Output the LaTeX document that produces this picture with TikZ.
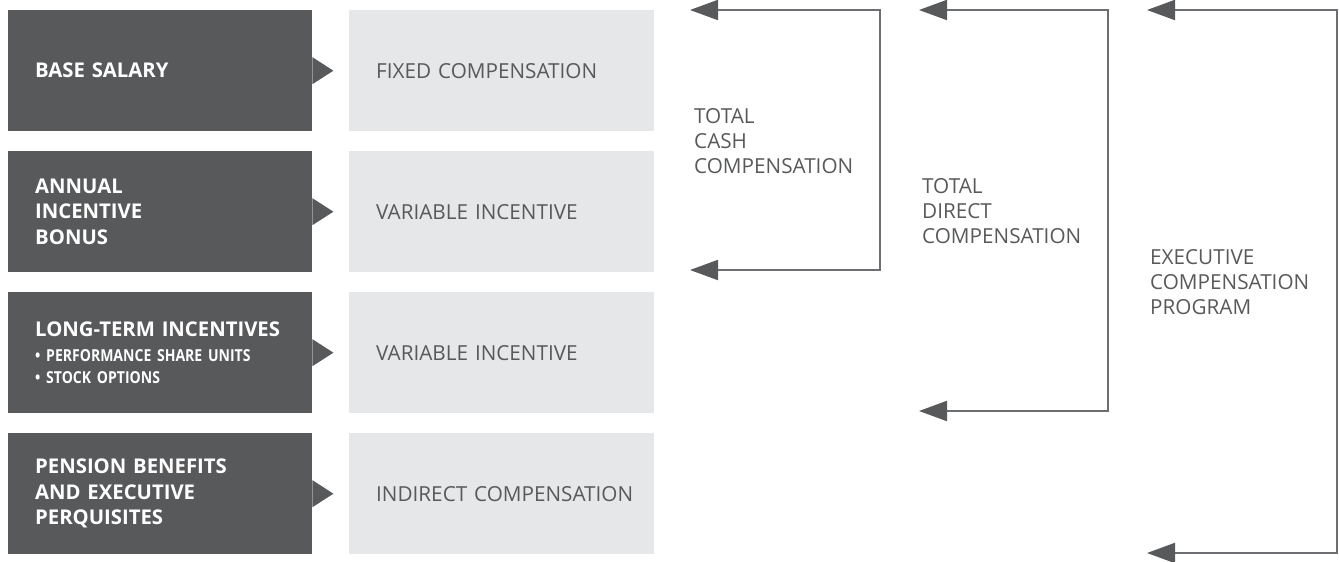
\documentclass[tikz,border=0pt]{standalone}
\usepackage{fontspec}
\setmainfont{Open Sans}
\usetikzlibrary{arrows.meta}
\hyphenpenalty=10000
\hbadness=10000
\hfuzz=200pt
\definecolor{darkbox}{HTML}{58595B}
\definecolor{lightbox}{HTML}{E6E7E8}
\definecolor{txtgray}{HTML}{58595B}
\definecolor{linegray}{HTML}{6D6E71}
\tikzset{
  darkbox/.style={rectangle, fill=darkbox, text=white, anchor=north west, minimum width=304pt, minimum height=121pt, inner xsep=0pt, inner ysep=0pt, text width=250pt, align=left, font=\fontsize{20.3}{25.5}\selectfont\bfseries},
  lightbox/.style={rectangle, fill=lightbox, text=txtgray, anchor=north west, minimum width=305pt, minimum height=121pt, inner xsep=0pt, inner ysep=0pt, text width=251pt, align=left, font=\fontsize{20.7}{25}\selectfont},
  lbl/.style={anchor=west, inner sep=0pt, text=txtgray, align=left, font=\fontsize{20.7}{25}\selectfont},
  brk/.style={draw=linegray, line width=2pt, {Triangle[length=28pt, width=20pt, color=darkbox]}-{Triangle[length=28pt, width=20pt, color=darkbox]}},
}
\newcommand{\pointer}[1]{\fill[darkbox] ([yshift=13.5pt]#1.east) -- ([xshift=21pt]#1.east) -- ([yshift=-13.5pt]#1.east) -- cycle;}
\newcommand{\bul}[1]{\mbox{\scalebox{0.85}[1]{\fontsize{16.5}{22}\selectfont • #1}}}
\begin{document}
\begin{tikzpicture}[x=1pt, y=-1pt]
\useasboundingbox (0,0) rectangle (1339,562);
% dark boxes
\node[darkbox] (d1) at (8,10) {BASE SALARY};
\node[darkbox] (d2) at (8,151) {ANNUAL\\INCENTIVE\\BONUS};
\node[darkbox] (d3) at (8,292) {\mbox{LONG-TERM INCENTIVES}\\[0pt]\bul{PERFORMANCE SHARE UNITS}\\[-4pt]\bul{STOCK OPTIONS}};
\node[darkbox] (d4) at (8,433) {\mbox{PENSION BENEFITS}\\\mbox{AND EXECUTIVE}\\PERQUISITES};
% light boxes
\node[lightbox] (l1) at (349,10) {\mbox{FIXED COMPENSATION}};
\node[lightbox] (l2) at (349,151) {\mbox{VARIABLE INCENTIVE}};
\node[lightbox] (l3) at (349,292) {\mbox{VARIABLE INCENTIVE}};
\node[lightbox] (l4) at (349,433) {\mbox{INDIRECT COMPENSATION}};
% pointers
\pointer{d1}\pointer{d2}\pointer{d3}\pointer{d4}
% bracket endpoints
\coordinate (a1) at (690,10);
\coordinate (b1) at (690,270);
\coordinate (a2) at (919,10);
\coordinate (b2) at (919,411);
\coordinate (a3) at (1147,10);
\coordinate (b3) at (1147,553);
\draw[brk] (a1) -- (880,10) -- (880,270) -- (b1);
\draw[brk] (a2) -- (1108,10) -- (1108,411) -- (b2);
\draw[brk] (a3) -- (1337,10) -- (1337,553) -- (b3);
% labels
\node[lbl] (t1) at (694,141) {TOTAL\\CASH\\COMPENSATION};
\node[lbl] (t2) at (922,211) {TOTAL\\DIRECT\\COMPENSATION};
\node[lbl] (t3) at (1150,282) {EXECUTIVE\\COMPENSATION\\PROGRAM};
\end{tikzpicture}
\end{document}
